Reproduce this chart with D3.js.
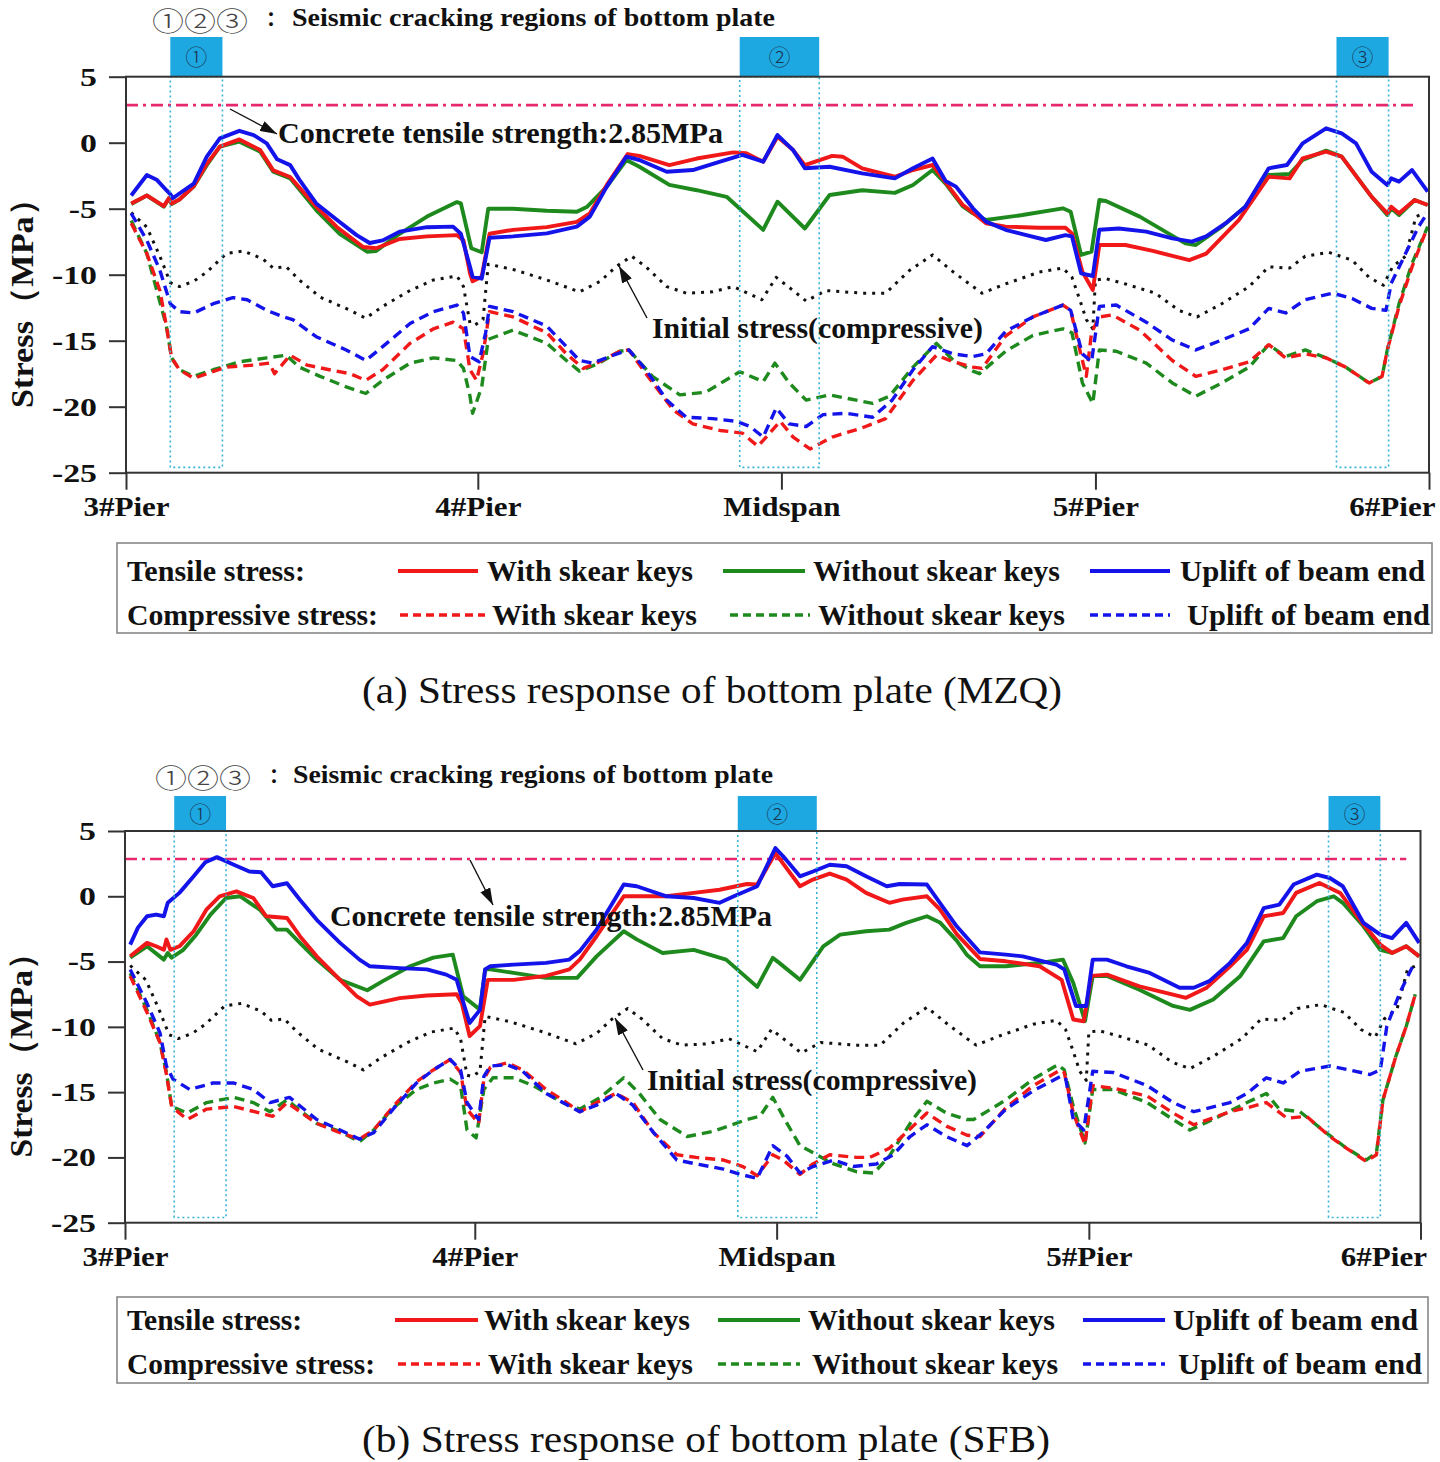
<!DOCTYPE html>
<html><head><meta charset="utf-8">
<script src="https://cdn.jsdelivr.net/npm/d3@7"></script>
<style>body{margin:0;background:#fff}svg{display:block}</style>
</head><body>
<svg id="c" width="1440" height="1462"></svg>
<script>
// ---------------- DATA ----------------
const xTickPos = [0, 27.0, 50.3, 74.4, 100];
const xTickLabels = ["3#Pier", "4#Pier", "Midspan", "5#Pier", "6#Pier"];
const yTicks = [-25, -20, -15, -10, -5, 0, 5];
const tensileStrength = 2.85;
const regionLabels = ["\u2460", "\u2461", "\u2462"];
const regionsA = [[3.4, 7.4], [47.1, 53.2], [92.9, 96.9]];
const regionsB = [[3.8, 7.8], [47.3, 53.4], [92.9, 96.9]];

// initial stress (compressive), same for both models
const initialStress = [[0.4,-5.3],[1.6,-6.4],[2.6,-8.6],[3.4,-10.6],[4.1,-10.9],[5.2,-10.5],[6.2,-9.8],[7.7,-8.4],[9.0,-8.2],[10.5,-8.8],[11.3,-9.5],[12.3,-9.4],[13.3,-10.4],[14.9,-11.7],[17.2,-12.7],[18.4,-13.3],[19.7,-12.4],[21.8,-11.2],[23.6,-10.4],[25.4,-10.1],[25.9,-10.9],[26.4,-13.7],[26.8,-13.8],[27.4,-13.4],[27.8,-9.2],[29.7,-9.6],[32.3,-10.4],[34.8,-11.3],[36.4,-10.5],[37.6,-9.4],[38.8,-8.6],[39.9,-9.4],[41.5,-10.9],[43.0,-11.4],[45.0,-11.3],[46.6,-10.9],[48.8,-11.9],[49.9,-10.2],[51.2,-11.2],[52.2,-12.0],[53.7,-11.2],[56.5,-11.4],[58.3,-11.4],[60.1,-9.7],[61.9,-8.5],[63.5,-9.8],[65.0,-10.9],[65.7,-11.4],[67.5,-10.7],[70.1,-9.8],[71.9,-9.5],[72.6,-10.2],[73.2,-11.9],[73.7,-13.4],[74.2,-14.1],[74.4,-10.4],[75.2,-10.3],[76.7,-10.7],[79.0,-11.4],[80.8,-12.7],[82.2,-13.2],[84.1,-12.2],[86.2,-10.9],[87.7,-9.4],[89.3,-9.5],[90.5,-8.6],[92.3,-8.3],[94.1,-8.9],[95.4,-10.2],[96.5,-10.8],[97.2,-9.4],[98.2,-8.6],[99.0,-5.6],[99.7,-5.3]];

// (a) MZQ
const mzqTensileWith = [[0.4,-4.6],[1.6,-4.0],[2.9,-4.8],[3.3,-4.2],[3.5,-4.6],[4.1,-4.3],[5.2,-3.3],[6.2,-1.6],[7.2,-0.3],[8.7,0.25],[10.3,-0.56],[11.3,-2.1],[12.6,-2.6],[14.6,-4.85],[16.2,-6.4],[18.2,-7.9],[19.2,-8.0],[21.0,-7.3],[23.1,-7.1],[25.4,-7.0],[25.9,-7.4],[26.4,-9.9],[26.6,-10.5],[27.3,-10.15],[27.9,-6.9],[29.7,-6.6],[32.3,-6.4],[34.6,-6.0],[35.6,-5.35],[36.9,-3.2],[38.5,-0.86],[39.4,-1.0],[41.7,-1.7],[43.8,-1.2],[46.6,-0.73],[47.6,-0.8],[48.9,-1.44],[50.0,0.45],[51.2,-0.56],[52.1,-1.7],[54.2,-1.0],[55.0,-1.06],[56.5,-1.94],[59.0,-2.58],[60.4,-2.07],[61.9,-1.69],[62.9,-3.0],[64.2,-4.7],[65.0,-5.3],[66.0,-6.1],[67.5,-6.36],[70.1,-6.44],[72.1,-6.44],[72.6,-6.87],[73.4,-9.77],[74.2,-11.16],[74.7,-7.75],[76.7,-7.75],[78.8,-8.2],[81.6,-8.9],[82.9,-8.4],[85.4,-5.86],[87.7,-2.58],[89.3,-2.7],[90.3,-1.19],[92.1,-0.68],[93.3,-1.06],[95.6,-4.1],[96.8,-5.35],[97.1,-4.85],[97.7,-5.35],[98.9,-4.34],[99.9,-4.72]];
const mzqTensileWithout = [[0.4,-4.65],[1.6,-4.0],[2.9,-4.85],[3.3,-4.2],[3.5,-4.65],[4.1,-4.3],[5.2,-3.3],[6.2,-1.7],[7.2,-0.3],[8.7,0.08],[10.3,-0.68],[11.3,-2.2],[12.6,-2.7],[14.6,-5.1],[16.4,-6.9],[18.5,-8.26],[19.2,-8.2],[21.0,-6.9],[23.1,-5.6],[25.4,-4.5],[25.7,-4.6],[26.5,-8.0],[27.3,-8.3],[27.8,-5.0],[29.7,-5.0],[32.3,-5.15],[34.6,-5.23],[35.4,-4.85],[36.9,-3.33],[38.4,-1.31],[39.4,-1.82],[41.7,-3.2],[43.8,-3.6],[46.1,-4.1],[48.9,-6.6],[50.0,-4.47],[52.1,-6.5],[54.0,-3.96],[56.5,-3.6],[59.0,-3.8],[60.4,-3.2],[61.9,-2.07],[62.9,-3.1],[64.2,-4.8],[65.0,-5.35],[66.0,-5.86],[68.8,-5.48],[71.9,-4.97],[72.5,-5.23],[73.3,-8.5],[74.1,-8.26],[74.7,-4.34],[75.2,-4.42],[77.8,-5.6],[81.3,-7.63],[82.1,-7.75],[84.1,-6.36],[85.9,-4.85],[87.7,-2.45],[89.3,-2.37],[90.3,-1.31],[92.1,-0.6],[93.3,-1.06],[95.6,-4.1],[96.8,-5.48],[97.1,-4.97],[97.7,-5.48],[98.9,-4.34],[99.9,-4.72]];
const mzqTensileUplift = [[0.4,-4.0],[1.6,-2.45],[2.35,-2.8],[3.1,-3.6],[3.4,-3.9],[3.6,-4.2],[4.1,-3.85],[5.2,-3.1],[6.2,-1.06],[7.2,0.33],[8.7,0.9],[9.8,0.58],[10.8,-0.05],[11.6,-1.26],[12.6,-1.7],[13.3,-2.8],[14.6,-4.6],[16.2,-5.86],[17.7,-7.0],[18.7,-7.6],[19.7,-7.4],[21.0,-6.74],[23.1,-6.4],[25.1,-6.36],[25.7,-6.9],[26.4,-9.4],[26.6,-10.15],[27.3,-10.3],[27.9,-7.2],[29.7,-7.1],[32.3,-6.87],[34.6,-6.36],[35.6,-5.6],[36.9,-3.33],[38.4,-1.06],[39.4,-1.31],[41.5,-2.2],[43.5,-2.07],[45.6,-1.44],[47.3,-0.93],[48.9,-1.44],[50.0,0.58],[51.2,-0.56],[52.1,-1.94],[54.0,-1.82],[56.5,-2.32],[59.0,-2.7],[60.4,-1.94],[61.9,-1.19],[62.9,-2.9],[63.7,-3.33],[65.0,-4.97],[66.0,-5.98],[67.5,-6.6],[69.1,-7.0],[70.6,-7.37],[72.1,-7.0],[72.6,-7.1],[73.3,-9.9],[74.2,-10.1],[74.7,-6.6],[76.2,-6.5],[78.3,-6.74],[80.3,-7.25],[81.8,-7.5],[82.9,-7.1],[84.4,-6.1],[85.9,-4.85],[87.7,-1.94],[89.1,-1.69],[90.3,-0.05],[92.1,1.09],[93.3,0.7],[94.4,-0.05],[95.6,-2.2],[96.8,-3.2],[97.1,-2.7],[97.7,-2.95],[98.7,-2.07],[99.9,-3.7]];
const mzqCompWith = [[0.4,-6.1],[1.6,-8.4],[2.6,-11.2],[3.1,-13.9],[3.5,-16.3],[4.1,-17.2],[5.2,-17.85],[6.2,-17.5],[7.7,-17.0],[9.8,-16.85],[11.0,-16.7],[11.4,-17.5],[12.6,-16.1],[13.9,-16.85],[15.6,-17.2],[17.2,-17.5],[18.4,-18.0],[19.7,-17.2],[21.8,-15.2],[23.6,-14.1],[25.1,-13.6],[25.9,-14.1],[26.4,-17.2],[26.9,-18.0],[27.4,-16.0],[27.9,-12.8],[29.7,-13.2],[32.3,-14.4],[33.8,-16.0],[35.1,-17.1],[36.1,-16.7],[37.9,-15.8],[38.6,-15.7],[39.9,-17.5],[42.0,-20.25],[43.5,-21.3],[45.6,-21.8],[47.3,-22.0],[48.5,-23.0],[50.2,-21.1],[51.2,-22.3],[52.5,-23.2],[54.2,-22.3],[56.5,-21.6],[58.3,-20.9],[60.4,-18.0],[62.2,-16.1],[63.5,-16.6],[65.0,-17.0],[65.7,-17.1],[67.5,-14.65],[69.6,-13.2],[71.9,-12.3],[72.5,-12.7],[73.2,-15.7],[73.7,-17.7],[74.1,-14.4],[74.7,-13.2],[75.7,-13.05],[77.8,-14.2],[80.3,-16.5],[82.1,-17.7],[84.1,-17.2],[86.2,-16.6],[87.7,-15.3],[89.0,-16.3],[90.5,-16.0],[92.1,-16.3],[93.6,-17.0],[95.4,-18.2],[96.4,-17.7],[96.8,-15.7],[97.7,-12.4],[98.7,-9.4],[99.7,-6.87]];
const mzqCompWithout = [[0.4,-5.9],[1.6,-8.4],[3.1,-13.9],[3.5,-16.3],[4.1,-17.2],[5.2,-17.7],[6.7,-17.2],[8.7,-16.6],[10.8,-16.3],[12.3,-16.1],[13.3,-17.0],[14.9,-17.7],[16.9,-18.5],[18.4,-19.0],[19.7,-18.0],[21.8,-16.7],[23.6,-16.3],[25.4,-16.5],[25.9,-17.1],[26.4,-19.2],[26.6,-20.5],[27.3,-18.5],[27.8,-14.9],[29.7,-14.2],[32.3,-15.2],[33.8,-16.5],[34.8,-17.3],[36.1,-16.8],[37.9,-15.8],[38.6,-15.7],[40.4,-17.7],[42.5,-19.1],[44.5,-18.9],[47.1,-17.35],[48.9,-18.1],[49.8,-16.7],[50.9,-18.2],[52.2,-19.5],[54.0,-19.1],[55.5,-19.4],[57.3,-19.75],[58.6,-19.2],[60.4,-17.0],[62.2,-15.2],[63.5,-16.5],[65.0,-17.3],[65.5,-17.5],[67.5,-15.8],[69.6,-14.6],[71.9,-14.1],[72.6,-14.4],[73.4,-18.2],[74.2,-19.75],[74.7,-15.7],[76.0,-15.8],[78.3,-16.7],[80.3,-18.2],[82.1,-19.2],[84.1,-18.2],[86.2,-17.0],[87.7,-15.3],[89.0,-16.2],[90.5,-15.7],[92.1,-16.3],[93.6,-17.0],[95.4,-18.2],[96.4,-17.7],[96.8,-15.7],[97.7,-12.2],[98.7,-9.14],[99.9,-6.36]];
const mzqCompUplift = [[0.4,-5.35],[1.6,-7.4],[2.6,-9.65],[3.4,-12.2],[4.1,-12.8],[5.2,-12.9],[6.7,-12.2],[8.2,-11.74],[9.3,-11.9],[10.8,-12.7],[12.1,-13.2],[12.8,-13.4],[14.6,-14.7],[16.9,-15.7],[18.4,-16.5],[19.7,-15.45],[21.8,-13.7],[23.6,-12.8],[25.4,-12.3],[25.9,-12.9],[26.4,-16.2],[27.1,-16.6],[27.6,-14.4],[27.9,-12.4],[29.7,-12.8],[32.3,-13.9],[33.8,-15.45],[34.8,-16.5],[35.8,-16.7],[37.4,-16.1],[38.6,-15.7],[39.9,-17.2],[41.5,-19.5],[43.0,-20.8],[45.0,-20.9],[46.8,-21.1],[47.9,-21.5],[48.9,-22.3],[49.9,-20.1],[50.9,-21.3],[52.2,-21.5],[53.5,-20.6],[55.3,-20.5],[57.3,-20.8],[58.8,-19.5],[60.4,-17.2],[61.9,-15.45],[63.5,-16.0],[65.0,-16.2],[66.0,-16.0],[67.5,-14.3],[69.6,-13.2],[71.9,-12.3],[72.5,-12.7],[73.4,-16.0],[74.1,-16.6],[74.7,-12.4],[76.0,-12.3],[78.3,-13.6],[80.3,-14.95],[82.1,-15.7],[84.1,-14.95],[86.2,-14.1],[87.7,-12.55],[89.0,-12.9],[90.5,-11.9],[92.6,-11.4],[94.1,-11.8],[95.6,-12.55],[96.7,-12.7],[97.1,-10.66],[98.2,-8.4],[99.2,-6.36],[99.7,-5.6]];

// (b) SFB
const sfbTensileWith = [[0.4,-4.6],[1.7,-3.57],[2.4,-3.83],[3.0,-4.1],[3.2,-3.3],[3.5,-4.1],[4.2,-3.83],[5.3,-2.68],[6.3,-1.0],[7.3,0],[8.6,0.38],[9.9,-0.13],[10.9,-1.53],[12.5,-1.66],[13.5,-3.06],[14.8,-4.6],[16.6,-6.4],[17.9,-7.66],[18.9,-8.3],[21.2,-7.8],[23.3,-7.6],[25.6,-7.5],[26.0,-8.2],[26.6,-10.7],[27.4,-9.95],[28.0,-6.4],[30.0,-6.4],[32.5,-6.1],[34.3,-5.6],[35.1,-4.85],[36.4,-3.06],[38.5,0],[39.5,0],[41.8,0],[43.9,0.26],[45.9,0.5],[48.0,0.94],[48.8,0.9],[50.2,3.3],[52.1,0.77],[53.1,1.28],[54.4,1.74],[55.7,1.28],[57.2,0.26],[59.0,-0.5],[60.0,-0.26],[61.9,0],[62.9,-1.0],[64.2,-2.9],[66.0,-4.8],[68.0,-4.98],[70.6,-5.36],[72.3,-6.4],[73.2,-9.44],[74.0,-9.57],[74.6,-6.1],[75.8,-6.0],[78.3,-6.9],[80.9,-7.53],[81.9,-7.78],[83.5,-7.0],[85.3,-5.36],[86.6,-4.1],[87.9,-1.53],[89.4,-1.28],[90.4,0.26],[92.2,1.02],[93.8,0.26],[95.6,-2.17],[96.9,-3.7],[97.8,-4.34],[98.9,-3.83],[99.9,-4.6]];
const sfbTensileWithout = [[0.4,-4.7],[1.7,-3.83],[3.0,-4.85],[3.3,-4.34],[3.6,-4.7],[4.5,-4.1],[5.5,-2.94],[6.6,-1.4],[7.8,-0.13],[8.9,0],[10.4,-1.02],[11.7,-2.55],[12.5,-2.55],[13.5,-3.57],[14.8,-4.85],[16.6,-6.4],[18.7,-7.2],[19.9,-6.5],[22.0,-5.36],[23.8,-4.7],[25.3,-4.47],[26.1,-7.66],[27.4,-8.68],[27.8,-5.6],[28.2,-5.6],[30.0,-5.87],[32.5,-6.25],[34.9,-6.25],[36.4,-4.6],[38.5,-2.68],[39.5,-3.3],[41.5,-4.34],[43.9,-4.1],[46.4,-4.85],[48.8,-6.94],[50.0,-4.72],[50.5,-5.1],[52.1,-6.4],[53.9,-3.83],[55.2,-2.94],[57.2,-2.68],[59.0,-2.55],[60.3,-2.04],[61.9,-1.53],[62.9,-2.0],[64.2,-3.4],[65.0,-4.5],[66.0,-5.36],[68.0,-5.36],[70.6,-5.1],[72.4,-4.85],[73.2,-6.64],[74.1,-9.57],[74.7,-6.1],[75.8,-6.1],[78.3,-7.15],[80.9,-8.4],[82.2,-8.7],[84.0,-7.9],[86.1,-6.1],[87.9,-3.45],[89.4,-3.2],[90.4,-1.53],[92.0,-0.38],[93.3,0],[94.0,-0.5],[95.6,-2.3],[96.9,-4.1],[97.8,-4.34],[98.9,-3.83],[99.9,-4.6]];
const sfbTensileUplift = [[0.4,-3.7],[1.0,-2.4],[1.7,-1.53],[2.4,-1.4],[3.0,-1.53],[3.3,-0.5],[4.2,0.26],[5.3,1.53],[6.2,2.6],[7.1,3.0],[8.4,2.42],[9.6,1.9],[10.5,1.84],[11.4,0.77],[12.5,1.0],[13.5,-0.26],[14.8,-1.8],[16.6,-3.57],[18.1,-4.85],[18.9,-5.36],[21.2,-5.5],[23.3,-5.6],[24.8,-6.0],[25.6,-6.4],[26.2,-8.4],[26.6,-9.7],[27.4,-8.7],[27.8,-5.6],[28.2,-5.36],[30.0,-5.23],[32.5,-5.1],[34.3,-4.85],[35.1,-4.2],[36.4,-2.55],[38.5,0.9],[39.5,0.77],[41.8,0],[43.9,-0.13],[45.9,-0.5],[47.0,0],[48.8,0.77],[50.2,3.7],[50.8,3.06],[52.1,1.53],[53.1,1.9],[54.4,2.42],[55.7,2.3],[57.2,1.53],[58.8,0.77],[59.8,0.94],[61.9,0.9],[62.9,-0.5],[64.2,-2.3],[66.0,-4.3],[68.0,-4.47],[69.3,-4.6],[71.9,-5.23],[72.5,-5.6],[73.4,-8.4],[74.2,-8.4],[74.7,-4.85],[75.8,-4.85],[77.3,-5.36],[79.1,-5.87],[81.4,-7.0],[82.5,-7.0],[83.7,-6.5],[85.3,-5.1],[86.6,-3.57],[87.9,-0.9],[89.1,-0.64],[90.2,0.9],[92.0,1.66],[93.0,1.4],[94.0,0.77],[95.6,-2.04],[96.9,-2.94],[97.8,-3.2],[98.9,-2.04],[99.9,-3.57]];
const sfbCompWith = [[0.4,-6.1],[1.7,-8.9],[2.7,-11.2],[3.2,-13.65],[3.6,-16.1],[4.8,-17.1],[6.3,-16.3],[8.4,-16.1],[10.4,-16.6],[11.4,-16.85],[12.5,-15.8],[14.8,-17.4],[16.6,-18.1],[18.1,-18.6],[19.2,-17.9],[20.7,-16.1],[22.5,-14.2],[23.8,-13.3],[25.1,-12.5],[25.9,-13.5],[26.4,-16.3],[27.3,-17.4],[27.7,-14.0],[28.2,-13.1],[29.5,-12.76],[30.7,-13.3],[32.5,-14.8],[33.8,-15.6],[35.1,-16.5],[36.4,-15.8],[37.9,-15.1],[39.2,-15.8],[40.8,-18.1],[42.6,-19.8],[44.1,-20.0],[46.2,-20.2],[47.7,-20.7],[48.8,-21.4],[50.0,-19.8],[50.8,-20.2],[52.1,-21.3],[53.1,-20.5],[54.4,-19.8],[56.5,-20.0],[57.5,-20.0],[59.0,-19.3],[60.3,-18.1],[61.9,-16.6],[63.4,-17.6],[65.0,-18.3],[66.0,-18.4],[68.0,-16.2],[70.1,-14.5],[72.2,-13.3],[72.5,-13.5],[73.2,-16.6],[74.1,-19.0],[74.7,-14.5],[76.3,-14.7],[78.9,-15.3],[80.9,-16.6],[82.5,-17.5],[85.3,-16.5],[86.6,-16.2],[88.1,-15.8],[89.7,-17.0],[91.2,-16.85],[93.0,-18.4],[94.3,-19.3],[95.8,-20.3],[96.6,-19.8],[97.1,-15.6],[98.1,-12.25],[98.9,-9.95],[99.6,-7.5]];
const sfbCompWithout = [[0.4,-5.9],[1.7,-8.7],[2.7,-11.2],[3.2,-13.5],[3.6,-16.1],[4.8,-16.6],[6.3,-15.8],[8.4,-15.4],[9.9,-15.8],[11.2,-16.5],[12.5,-15.6],[14.8,-17.4],[16.6,-18.0],[18.1,-18.8],[19.2,-17.9],[20.7,-16.2],[22.5,-14.8],[23.8,-14.3],[25.1,-14.0],[25.9,-14.5],[26.4,-17.9],[27.1,-18.5],[27.7,-14.8],[28.4,-13.9],[30.0,-13.9],[31.5,-14.5],[33.8,-15.8],[35.1,-16.3],[36.7,-15.4],[38.5,-13.9],[39.7,-15.1],[41.3,-17.1],[43.4,-18.4],[45.4,-18.0],[48.0,-17.1],[49.0,-16.85],[50.0,-15.4],[51.1,-17.4],[52.1,-19.1],[53.4,-19.8],[54.7,-20.5],[56.5,-21.1],[57.8,-21.2],[59.0,-19.9],[60.8,-17.1],[61.9,-15.7],[63.4,-16.6],[65.0,-17.1],[65.5,-17.1],[68.0,-15.6],[70.1,-14.0],[72.0,-12.9],[72.5,-13.3],[73.2,-16.1],[74.1,-18.9],[74.7,-14.8],[76.3,-14.8],[78.9,-15.8],[80.9,-17.1],[82.2,-17.9],[84.8,-16.7],[86.6,-15.8],[88.1,-15.1],[89.1,-16.3],[90.7,-16.5],[92.7,-18.1],[94.3,-19.3],[95.8,-20.2],[96.6,-19.65],[97.1,-15.6],[98.1,-12.25],[98.9,-9.95],[99.6,-7.5]];
const sfbCompUplift = [[0.4,-5.6],[1.7,-8.2],[2.7,-10.46],[3.2,-13.0],[3.7,-14.0],[5.0,-14.8],[6.8,-14.3],[8.4,-14.3],[9.9,-14.8],[11.2,-15.8],[12.7,-15.4],[14.8,-17.1],[16.6,-17.9],[18.1,-18.6],[19.2,-18.1],[20.7,-16.3],[22.5,-14.3],[23.8,-13.3],[25.1,-12.5],[25.9,-13.3],[26.4,-15.8],[27.3,-17.1],[27.7,-13.8],[28.2,-13.0],[29.5,-12.9],[30.7,-13.4],[32.5,-15.1],[33.8,-15.8],[35.1,-16.5],[36.4,-16.0],[37.9,-15.1],[39.2,-16.0],[40.8,-18.1],[42.6,-20.2],[44.1,-20.5],[46.2,-20.9],[47.5,-21.3],[48.8,-21.6],[50.0,-19.1],[51.1,-19.9],[52.1,-21.2],[53.1,-20.7],[54.7,-20.2],[56.2,-20.7],[58.0,-20.5],[59.3,-19.8],[60.6,-18.4],[61.9,-17.5],[63.4,-18.4],[65.0,-19.1],[66.2,-18.1],[68.0,-16.3],[70.1,-14.9],[72.2,-13.8],[72.6,-13.9],[73.2,-17.1],[74.0,-17.9],[74.7,-13.4],[76.3,-13.5],[78.9,-14.5],[80.9,-15.8],[82.5,-16.5],[85.3,-15.8],[86.6,-15.1],[88.1,-13.9],[89.4,-14.3],[90.7,-13.4],[93.0,-13.0],[94.5,-13.3],[96.1,-13.65],[96.9,-13.3],[97.4,-9.95],[98.4,-7.4],[99.4,-5.36]];

const legendRowTitles = ["Tensile stress:", "Compressive stress:"];
const legendNames = ["With skear keys", "Without skear keys", "Uplift of beam end"];
const headerText = "Seismic cracking regions of bottom plate";
const strengthText = "Concrete tensile strength:2.85MPa";
const initialText = "Initial stress(compressive)";
const captions = ["(a) Stress response of bottom plate (MZQ)", "(b) Stress response of bottom plate (SFB)"];

// ---------------- STYLE / LAYOUT ----------------
const RED = "#f01818", GREEN = "#1e8a1e", BLUE = "#1414ea";
const SERIF = '"Liberation Serif", "Times New Roman", serif';
const CJK = '"Noto Sans CJK SC", "DejaVu Sans", sans-serif';
const svg = d3.select("#c");
const defs = svg.append("defs");
defs.append("marker").attr("id", "arr").attr("viewBox", "0 0 10 10")
  .attr("refX", 10).attr("refY", 5).attr("markerWidth", 17).attr("markerHeight", 11)
  .attr("markerUnits", "userSpaceOnUse").attr("orient", "auto").attr("preserveAspectRatio", "none")
  .append("path").attr("d", "M0,0L10,5L0,10Z").attr("fill", "#111");

function fitText(sel, w) { sel.attr("textLength", w).attr("lengthAdjust", "spacingAndGlyphs"); }
function stretch(sel, f) {
  sel.each(function () { const w = this.getComputedTextLength(); d3.select(this).attr("textLength", w * f).attr("lengthAdjust", "spacingAndGlyphs"); });
}
function serifText(g, x, y, str, size, bold) {
  return g.append("text").attr("x", x).attr("y", y).text(str)
    .style("font-family", SERIF).style("font-weight", bold ? 700 : 400).style("font-size", size + "px").attr("fill", "#111");
}

const panels = [
  { left: 126, right: 1429, top: 76.7, bottom: 472.7, hdrTop: 37, regions: regionsA,
    series: { tW: mzqTensileWith, tWo: mzqTensileWithout, tU: mzqTensileUplift, cW: mzqCompWith, cWo: mzqCompWithout, cU: mzqCompUplift },
    head: { cx: 152, base: 30.5, colonX: 266, tx: 292, tw: 483 },
    strength: { tx: 278, ty: 143, tw: 445, a: [230, 109, 277, 134] },
    initial: { tx: 652, ty: 338, tw: 331, a: [647, 318, 619, 266] },
    ylab: { cx: 22, cy: 295, w: 226 }, dashEnd: 98.9,
    legend: { x: 117, y: 543, w: 1315, h: 90, rows: [581, 625],
      items: [[[398, 478], 487, 206, [723, 805], 813, 247, [1090, 1170], 1180, 245],
              [[400, 485], 492, 205, [730, 810], 818, 247, [1090, 1170], 1187, 243]],
      titleW: [178, 251] },
    caption: { x: 362, y: 703, w: 700 } },
  { left: 125, right: 1420.5, top: 831, bottom: 1222.7, hdrTop: 796, regions: regionsB,
    series: { tW: sfbTensileWith, tWo: sfbTensileWithout, tU: sfbTensileUplift, cW: sfbCompWith, cWo: sfbCompWithout, cU: sfbCompUplift },
    head: { cx: 155, base: 787.5, colonX: 269, tx: 293, tw: 480 },
    strength: { tx: 330, ty: 926, tw: 442, a: [470, 860, 493, 905] },
    initial: { tx: 647, ty: 1090, tw: 330, a: [643, 1070, 615, 1018] },
    ylab: { cx: 21, cy: 1047, w: 221 }, dashEnd: 98.9,
    legend: { x: 117, y: 1297, w: 1311, h: 86, rows: [1330, 1374],
      items: [[[395, 478], 484, 206, [718, 800], 808, 247, [1083, 1165], 1173, 245],
              [[398, 480], 488, 205, [718, 800], 812, 246, [1083, 1165], 1178, 244]],
      titleW: [175, 248] },
    caption: { x: 362, y: 1452, w: 688 } }
];

panels.forEach((p, pi) => {
  const g = svg.append("g");
  const x = d3.scaleLinear().domain([0, 100]).range([p.left, p.right]);
  const y = d3.scaleLinear().domain([-25, 5]).range([p.bottom, p.top]);

  // header annotation
  g.append("text").attr("x", p.head.cx).attr("y", p.head.base).text(regionLabels.join(""))
    .style("font-family", CJK).style("font-weight", 300).style("font-size", "26px").attr("fill", "#444")
    .call(fitText, 96);
  g.append("text").attr("x", p.head.colonX).attr("y", p.head.base - 5).text("\uFF1A")
    .style("font-family", CJK).style("font-weight", 700).style("font-size", "20px").attr("fill", "#111");
  serifText(g, p.head.tx, p.head.base - 5, headerText, 25, true).call(fitText, p.head.tw);

  // header boxes for cracking regions
  p.regions.forEach((r, i) => {
    g.append("rect").attr("x", x(r[0])).attr("y", p.hdrTop).attr("width", x(r[1]) - x(r[0]))
      .attr("height", y(5) - p.hdrTop).attr("fill", "#1ea8e2");
    g.append("text").attr("x", (x(r[0]) + x(r[1])) / 2).attr("y", (p.hdrTop + y(5)) / 2 + 8)
      .attr("text-anchor", "middle").text(regionLabels[i]).style("font-family", CJK)
      .style("font-weight", 300).style("font-size", "22px").attr("fill", "#1b3550");
  });

  // tensile strength reference line
  g.append("line").attr("x1", x(0)).attr("x2", x(p.dashEnd)).attr("y1", y(tensileStrength)).attr("y2", y(tensileStrength))
    .attr("stroke", "#e8286e").attr("stroke-width", 2.6).attr("stroke-dasharray", "12,5,3,5");

  const line = d3.line().x(d => x(d[0])).y(d => y(d[1]));
  const drawS = (data, color, w, dash) => {
    const path = g.append("path").datum(data).attr("d", line).attr("fill", "none")
      .attr("stroke", color).attr("stroke-width", w).attr("stroke-linejoin", "round");
    if (dash) path.attr("stroke-dasharray", dash);
  };
  drawS(initialStress, "#111", 3, "3,6");
  drawS(p.series.cWo, GREEN, 3.4, "10,6");
  drawS(p.series.cW, RED, 3.4, "10,6");
  drawS(p.series.cU, BLUE, 3.4, "10,6");
  drawS(p.series.tWo, GREEN, 3.9, null);
  drawS(p.series.tW, RED, 3.9, null);
  drawS(p.series.tU, BLUE, 3.9, null);

  // dotted region rectangles
  p.regions.forEach(r => {
    g.append("rect").attr("x", x(r[0])).attr("y", y(5)).attr("width", x(r[1]) - x(r[0]))
      .attr("height", y(-24.6) - y(5)).attr("fill", "none").attr("stroke", "#38b3d8")
      .attr("stroke-width", 1.6).attr("stroke-dasharray", "2,3");
  });

  // frame
  g.append("rect").attr("x", p.left).attr("y", y(5)).attr("width", p.right - p.left).attr("height", y(-25) - y(5))
    .attr("fill", "none").attr("stroke", "#333").attr("stroke-width", 2);

  // axes
  const ya = g.append("g").attr("transform", `translate(${p.left},0)`)
    .call(d3.axisLeft(y).tickValues(yTicks).tickSize(17).tickPadding(12).tickFormat(d => d < 0 ? "-" + Math.abs(d) : String(d)));
  ya.select(".domain").remove();
  ya.selectAll(".tick line").attr("stroke", "#333").attr("stroke-width", 2);
  ya.selectAll(".tick text").style("font-family", SERIF).style("font-weight", 700).style("font-size", "26px")
    .attr("fill", "#111").call(stretch, 1.3);

  const xa = g.append("g").attr("transform", `translate(0,${p.bottom})`)
    .call(d3.axisBottom(x).tickValues(xTickPos).tickSize(17).tickPadding(7).tickFormat((d, i) => xTickLabels[i]));
  xa.select(".domain").remove();
  xa.selectAll(".tick line").attr("stroke", "#333").attr("stroke-width", 2);
  xa.selectAll(".tick text").style("font-family", SERIF).style("font-weight", 700).style("font-size", "27px")
    .attr("fill", "#111").call(stretch, 1.15);
  xa.selectAll(".tick text").filter((d, i) => i === xTickPos.length - 1).attr("text-anchor", "end").attr("dx", 6);

  // y label
  g.append("text").attr("transform", `translate(${p.ylab.cx},${p.ylab.cy}) rotate(-90)`)
    .attr("text-anchor", "middle").attr("dy", "0.35em").text("Stress\uFF08MPa\uFF09")
    .style("font-family", SERIF).style("font-weight", 700).style("font-size", "32px").attr("fill", "#111")
    .call(fitText, p.ylab.w);

  // annotations
  const s = p.strength;
  g.append("line").attr("x1", s.a[0]).attr("y1", s.a[1]).attr("x2", s.a[2]).attr("y2", s.a[3])
    .attr("stroke", "#111").attr("stroke-width", 1.4).attr("marker-end", "url(#arr)");
  serifText(g, s.tx, s.ty, strengthText, 30, true).call(fitText, s.tw);
  const n = p.initial;
  g.append("line").attr("x1", n.a[0]).attr("y1", n.a[1]).attr("x2", n.a[2]).attr("y2", n.a[3])
    .attr("stroke", "#111").attr("stroke-width", 1.4).attr("marker-end", "url(#arr)");
  serifText(g, n.tx, n.ty, initialText, 29, true).call(fitText, n.tw);

  // legend
  const L = p.legend;
  g.append("rect").attr("x", L.x).attr("y", L.y).attr("width", L.w).attr("height", L.h)
    .attr("fill", "#fff").attr("stroke", "#888").attr("stroke-width", 1.6);
  const colors = [RED, GREEN, BLUE];
  L.rows.forEach((base, ri) => {
    serifText(g, 127, base, legendRowTitles[ri], 29, true).call(fitText, L.titleW[ri]);
    const it = L.items[ri];
    for (let k = 0; k < 3; k++) {
      const seg = it[k * 3], tx = it[k * 3 + 1], tw = it[k * 3 + 2];
      const ln = g.append("line").attr("x1", seg[0]).attr("x2", seg[1]).attr("y1", base - 10).attr("y2", base - 10)
        .attr("stroke", colors[k]).attr("stroke-width", ri === 0 ? 4 : 3.6);
      if (ri === 1) ln.attr("stroke-dasharray", "8,5");
      serifText(g, tx, base, legendNames[k], 29, true).call(fitText, tw);
    }
  });

  // caption
  serifText(g, p.caption.x, p.caption.y, captions[pi], 38, false).call(fitText, p.caption.w);
});
</script>
</body></html>
